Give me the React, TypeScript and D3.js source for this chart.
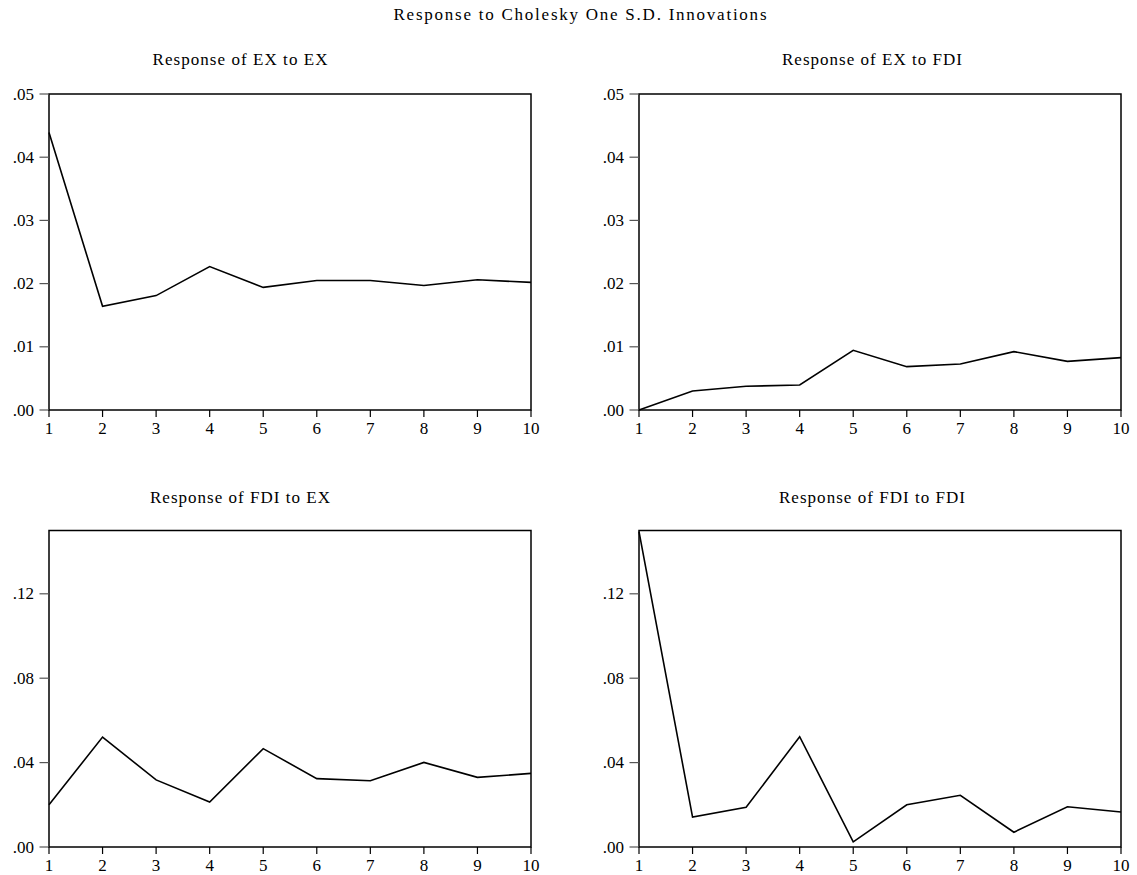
import React from 'react';
import * as d3 from 'd3';

// impulse response periods
const periods = [1, 2, 3, 4, 5, 6, 7, 8, 9, 10];

// responses
const exToEx = [0.0439, 0.0164, 0.0181, 0.0227, 0.0194, 0.0205, 0.0205, 0.0197, 0.0206, 0.0202];
const exToFdi = [0.0, 0.003, 0.00375, 0.00396, 0.00944, 0.00686, 0.00728, 0.00923, 0.0077, 0.00828];
const fdiToEx = [0.02, 0.0521, 0.0318, 0.0213, 0.0466, 0.0324, 0.0314, 0.0401, 0.033, 0.0349];
const fdiToFdi = [0.1495, 0.0142, 0.0188, 0.0523, 0.0024, 0.02, 0.0245, 0.007, 0.0191, 0.0166];

const topTicks = [0, 0.01, 0.02, 0.03, 0.04, 0.05];
const bottomTicks = [0, 0.04, 0.08, 0.12];

const mainTitle = 'Response to Cholesky One S.D. Innovations';

const panels = [
  { title: 'Response of EX to EX', values: exToEx, ticks: topTicks, max: 0.05, col: 0, row: 0, tl: 175 },
  { title: 'Response of EX to FDI', values: exToFdi, ticks: topTicks, max: 0.05, col: 1, row: 0, tl: 180 },
  { title: 'Response of FDI to EX', values: fdiToEx, ticks: bottomTicks, max: 0.15, col: 0, row: 1, tl: 180 },
  { title: 'Response of FDI to FDI', values: fdiToFdi, ticks: bottomTicks, max: 0.15, col: 1, row: 1, tl: 186 },
];

const W = 1137;
const H = 875;
const FONT = "'Liberation Serif', 'DejaVu Serif', 'Times New Roman', serif";

// frame geometry
const colX = [49, 639];
const frameW = 482;
const rowY = [94, 530.5];
const frameH = [316, 316.5];
const titleX = [240, 872];
const titleY = [65, 503];

const fmt = (v: number) => d3.format('.2f')(v).replace(/^0/, '');

const Panel = ({ p }: { p: typeof panels[number] }) => {
  const x0 = colX[p.col];
  const y0 = rowY[p.row];
  const h = frameH[p.row];
  const x = d3.scaleLinear().domain([1, 10]).range([x0, x0 + frameW]);
  const y = d3.scaleLinear().domain([0, p.max]).range([y0 + h, y0]);
  const line = d3.line<number>()
    .x((_, i) => x(periods[i]))
    .y(d => y(d));

  return (
    <g>
      <text x={titleX[p.col]} y={titleY[p.row]} textAnchor="middle" fontSize={17}
        textLength={p.tl} lengthAdjust="spacing" fill="#000">{p.title}</text>
      <rect x={x0} y={y0} width={frameW} height={h} fill="none" stroke="#000" strokeWidth={1.5} />
      {p.ticks.map(t => (
        <g key={t}>
          <line x1={x0 - 9.5} x2={x0} y1={y(t)} y2={y(t)} stroke="#555" strokeWidth={1.2} />
          <text x={x0 - 15} y={y(t) + 5.5} textAnchor="end" fontSize={17} fill="#000">{fmt(t)}</text>
        </g>
      ))}
      {periods.map(d => (
        <g key={d}>
          <line x1={x(d)} x2={x(d)} y1={y0 + h} y2={y0 + h + 7} stroke="#000" strokeWidth={1.2} />
          <text x={x(d)} y={y0 + h + 24} textAnchor="middle" fontSize={17} fill="#000">{d}</text>
        </g>
      ))}
      <path d={line(p.values) ?? ''} fill="none" stroke="#000" strokeWidth={1.6} strokeLinejoin="miter" />
    </g>
  );
};

export default function App() {
  return (
    <svg width={W} height={H} style={{ position: 'absolute', left: 0, top: 0, background: '#fff', fontFamily: FONT }}>
      <text x={580} y={20} textAnchor="middle" fontSize={17} textLength={373} lengthAdjust="spacing"
        fill="#000">{mainTitle}</text>
      {panels.map(p => <Panel key={p.title} p={p} />)}
    </svg>
  );
}
